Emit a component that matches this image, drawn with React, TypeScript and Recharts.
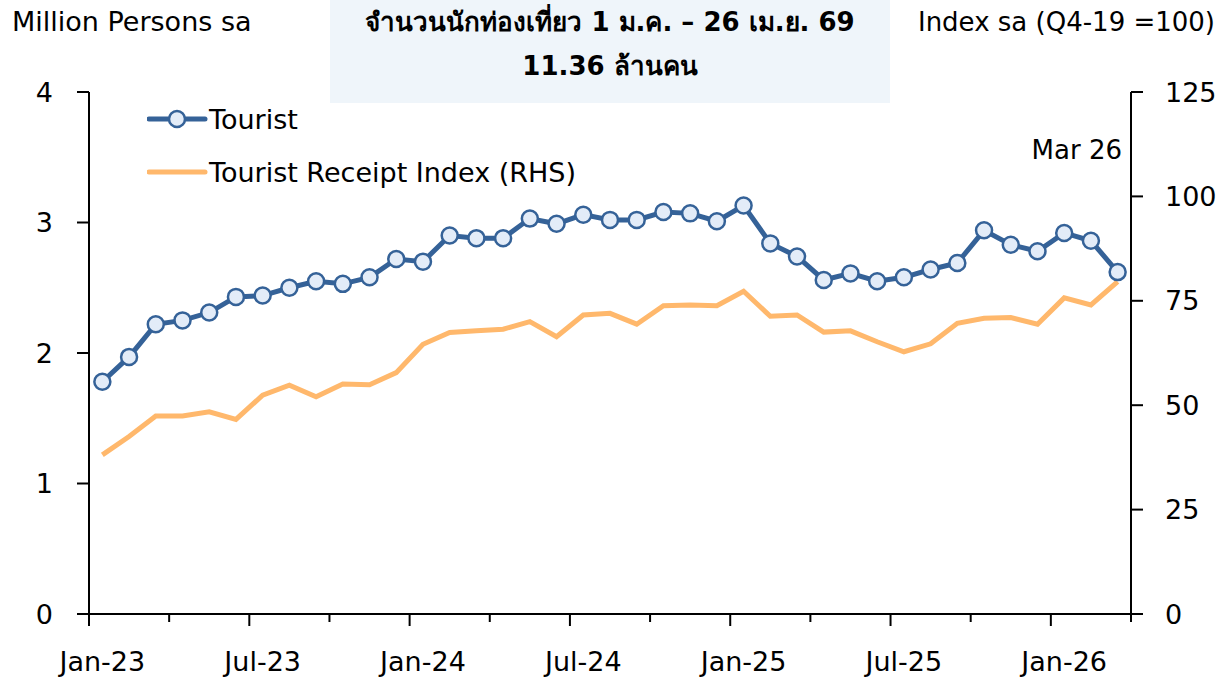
import { Legend, Line, LineChart, XAxis, YAxis } from "recharts";

// monthly categories, Jan-23 .. Mar-26
const months = [
  "Jan-23", "Feb-23", "Mar-23", "Apr-23", "May-23", "Jun-23", "Jul-23", "Aug-23", "Sep-23", "Oct-23", "Nov-23", "Dec-23",
  "Jan-24", "Feb-24", "Mar-24", "Apr-24", "May-24", "Jun-24", "Jul-24", "Aug-24", "Sep-24", "Oct-24", "Nov-24", "Dec-24",
  "Jan-25", "Feb-25", "Mar-25", "Apr-25", "May-25", "Jun-25", "Jul-25", "Aug-25", "Sep-25", "Oct-25", "Nov-25", "Dec-25",
  "Jan-26", "Feb-26", "Mar-26"
];

// million persons, seasonally adjusted (LHS)
const tourist = [
  1.78, 1.97, 2.22, 2.25, 2.31, 2.43, 2.44, 2.5, 2.55, 2.53, 2.58, 2.72,
  2.7, 2.9, 2.88, 2.88, 3.03, 2.99, 3.06, 3.02, 3.02, 3.08, 3.07, 3.01,
  3.13, 2.84, 2.74, 2.56, 2.61, 2.55, 2.58, 2.64, 2.69, 2.94, 2.83, 2.78,
  2.92, 2.86, 2.62
];

// receipt index, Q4-19 = 100 (RHS)
const receiptIndex = [
  38.1, 42.5, 47.4, 47.4, 48.4, 46.6, 52.4, 54.8, 52.0, 55.1, 54.9, 57.8,
  64.6, 67.4, 67.8, 68.2, 70.0, 66.4, 71.6, 72.0, 69.4, 73.8, 74.0, 73.8,
  77.3, 71.3, 71.6, 67.5, 67.8, 65.2, 62.8, 64.7, 69.6, 70.8, 71.0, 69.4,
  75.7, 74.0, 79.6
];

const leftTicks = [0, 1, 2, 3, 4];
const rightTicks = [0, 25, 50, 75, 100, 125];

const TOURIST_COLOR = "#356298";
const INDEX_COLOR = "#FFB86C";
const FONT = "'DejaVu Sans', 'Noto Sans', sans-serif";

const data = months.map((m, i) => ({
  i,
  month: m,
  tourist: tourist[i],
  receipt: receiptIndex[i]
}));

// tick marks sit on month boundaries (every quarter), labels under every 6th month
const boundaryTicks: number[] = [];
for (let k = 0; k * 3 <= months.length; k++) boundaryTicks.push(k * 3 - 0.5);
const labelTicks = months.map((_, i) => i).filter((i) => i % 6 === 0);
const xTicks = [...boundaryTicks, ...labelTicks].sort((a, b) => a - b);

function XTick({ x, y, payload }: { x?: number; y?: number; payload?: { value: number } }) {
  const v = payload?.value ?? 0;
  const px = x ?? 0;
  const py = y ?? 0;
  if (Number.isInteger(v)) {
    return (
      <text x={px} y={py + 57} textAnchor="middle" fontSize={27} fill="#000">
        {months[v]}
      </text>
    );
  }
  const major = (v + 0.5) % 6 === 0;
  return <line x1={px} x2={px} y1={py} y2={py + (major ? 12 : 8)} stroke="#000" strokeWidth={2} />;
}

function LegendContent() {
  return (
    <div style={{ fontFamily: FONT, fontSize: 27, color: "#000" }}>
      <div style={{ display: "flex", alignItems: "center", height: 30 }}>
        <svg width={62} height={24}>
          <line x1={2} x2={58} y1={12} y2={12} stroke={TOURIST_COLOR} strokeWidth={5} strokeLinecap="round" />
          <circle cx={30} cy={12} r={8} fill="#E3ECF8" stroke={TOURIST_COLOR} strokeWidth={2.5} />
        </svg>
        <span>Tourist</span>
      </div>
      <div style={{ display: "flex", alignItems: "center", height: 30, marginTop: 23 }}>
        <svg width={62} height={24}>
          <line x1={2} x2={58} y1={12} y2={12} stroke={INDEX_COLOR} strokeWidth={5} strokeLinecap="round" />
        </svg>
        <span>Tourist Receipt Index (RHS)</span>
      </div>
    </div>
  );
}

export default function App() {
  return (
    <div style={{ position: "absolute", left: 0, top: 0, width: 1219, height: 678, background: "#fff", fontFamily: FONT }}>
      <div style={{ position: "absolute", left: 12, top: 6, fontSize: 27, lineHeight: "32px", color: "#000" }}>
        Million Persons sa
      </div>
      <div style={{ position: "absolute", right: 4, top: 6, fontSize: 26, lineHeight: "32px", color: "#000" }}>
        Index sa (Q4-19 =100)
      </div>
      <div
        style={{
          position: "absolute",
          left: 330,
          top: 0,
          width: 560,
          height: 103,
          background: "#EFF5FA",
          textAlign: "center",
          fontWeight: "bold",
          fontSize: 26,
          lineHeight: "44px",
          color: "#000"
        }}
      >
        <div>จำนวนนักท่องเที่ยว 1 ม.ค. – 26 เม.ย. 69</div>
        <div>11.36 ล้านคน</div>
      </div>
      <div style={{ position: "absolute", right: 97, top: 134, fontSize: 26, lineHeight: "32px", color: "#000" }}>
        Mar 26
      </div>
      <LineChart width={1219} height={678} data={data} margin={{ top: 92, right: 0, bottom: 0, left: 0 }}>
        <XAxis
          dataKey="i"
          type="number"
          domain={[-0.5, months.length - 0.5]}
          ticks={xTicks}
          interval={0}
          tickLine={false}
          tickSize={0}
          tickMargin={0}
          tick={<XTick />}
          axisLine={{ stroke: "#000", strokeWidth: 2 }}
          height={64}
          allowDataOverflow
        />
        <YAxis
          yAxisId="L"
          domain={[0, 4]}
          ticks={leftTicks}
          width={89}
          tickSize={12}
          tickMargin={24}
          axisLine={{ stroke: "#000", strokeWidth: 2 }}
          tickLine={{ stroke: "#000", strokeWidth: 2 }}
          tick={{ fontSize: 27, fill: "#000" }}
        />
        <YAxis
          yAxisId="R"
          orientation="right"
          domain={[0, 125]}
          ticks={rightTicks}
          width={88}
          tickSize={12}
          tickMargin={22}
          axisLine={{ stroke: "#000", strokeWidth: 2 }}
          tickLine={{ stroke: "#000", strokeWidth: 2 }}
          tick={{ fontSize: 27, fill: "#000" }}
        />
        <Legend
          verticalAlign="middle"
          layout="horizontal"
          content={<LegendContent />}
          wrapperStyle={{ left: 147, top: 104, width: 480, height: 90 }}
        />
        <Line
          yAxisId="R"
          type="linear"
          dataKey="receipt"
          name="Tourist Receipt Index (RHS)"
          stroke={INDEX_COLOR}
          strokeWidth={5}
          dot={false}
          isAnimationActive={false}
        />
        <Line
          yAxisId="L"
          type="linear"
          dataKey="tourist"
          name="Tourist"
          stroke={TOURIST_COLOR}
          strokeWidth={5}
          dot={{ r: 8, fill: "#E3ECF8", stroke: TOURIST_COLOR, strokeWidth: 2.5 }}
          isAnimationActive={false}
        />
      </LineChart>
    </div>
  );
}
